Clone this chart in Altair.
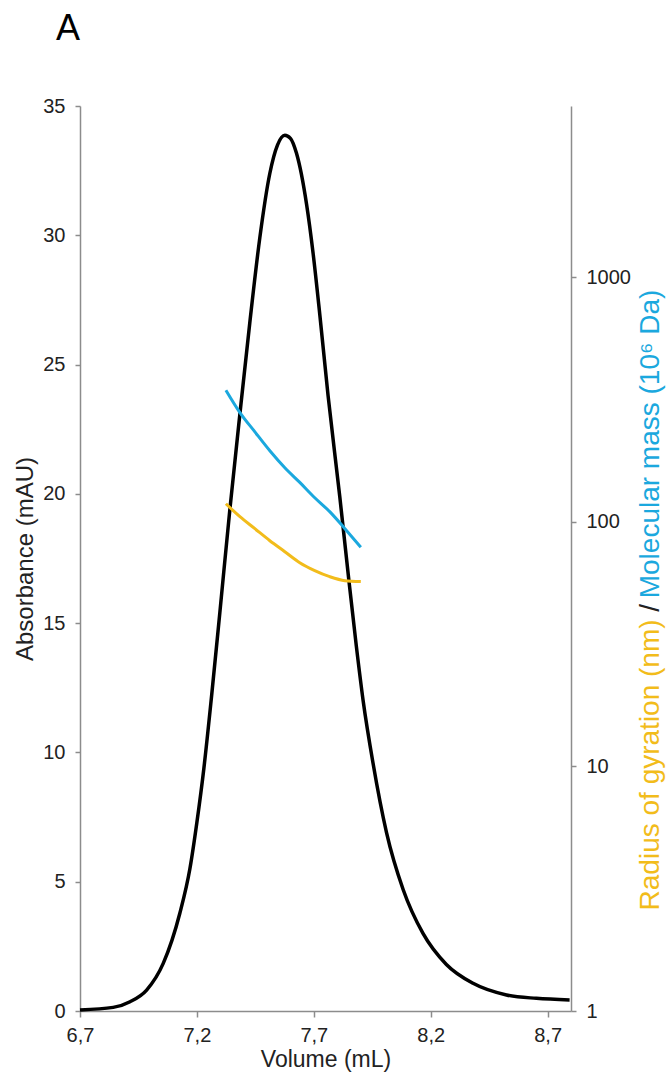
import altair as alt
import pandas as pd

# --- Absorbance trace (left axis) ---
abs_volume = [6.700, 6.842, 6.914, 6.985, 7.056, 7.127, 7.170, 7.200, 7.230, 7.263,
              7.298, 7.341, 7.384, 7.426, 7.469, 7.512, 7.545, 7.576, 7.600, 7.626,
              7.669, 7.697, 7.726, 7.761, 7.811, 7.847, 7.882, 7.911, 7.953, 8.011,
              8.082, 8.167, 8.267, 8.381, 8.524, 8.652, 8.794]
absorbance = [0.04, 0.14, 0.36, 0.81, 1.84, 3.78, 5.50, 7.30, 9.40, 12.20,
              15.40, 19.40, 23.10, 26.60, 29.90, 32.40, 33.50, 33.87, 33.75, 33.17,
              31.20, 29.30, 26.90, 23.80, 19.90, 16.90, 14.10, 12.00, 9.60, 6.90,
              4.70, 3.00, 1.80, 1.07, 0.62, 0.49, 0.43]

# --- Radius of gyration (nm), right log axis ---
rg_volume = [7.324, 7.384, 7.448, 7.512, 7.576, 7.640, 7.704, 7.768, 7.833, 7.901]
rg_values = [118.4, 104.8, 93.6, 83.6, 75.4, 68.0, 63.1, 59.6, 57.4, 56.9]

# --- Molecular mass (10^6 Da), right log axis ---
mm_volume = [7.324, 7.384, 7.448, 7.512, 7.576, 7.640, 7.704, 7.768, 7.833, 7.901]
mm_values = [344.8, 279.3, 232.9, 194.9, 166.1, 144.7, 125.3, 109.9, 93.6, 78.6]

x_ticks = [6.7, 7.2, 7.7, 8.2, 8.7]
left_ticks = [0, 5, 10, 15, 20, 25, 30, 35]
right_ticks = [1, 10, 100, 1000]

FONT = "Liberation Sans"
AXIS_GREY = "#8c8c8c"
GOLD = "#F2BC1B"
BLUE = "#1BA8DE"

W, H = 491, 905

abs_df = pd.DataFrame({"vol": abs_volume, "abs": absorbance})
sec_df = pd.concat([
    pd.DataFrame({"vol": rg_volume, "val": rg_values, "series": "Rg"}),
    pd.DataFrame({"vol": mm_volume, "val": mm_values, "series": "MM"}),
], ignore_index=True)

x_enc = alt.X(
    "vol:Q",
    scale=alt.Scale(domain=[6.7, 8.8], nice=False, zero=False),
    axis=alt.Axis(
        values=x_ticks,
        labelExpr="replace(format(datum.value, '.1f'), '.', ',')",
        title="Volume (mL)",
        titleFontSize=23,
        titlePadding=3,
        labelPadding=8,
        tickSize=6,
        labelFlush=False,
    ),
)

black = alt.Chart(abs_df).mark_line(color="black", strokeWidth=3.5, interpolate="monotone").encode(
    x=x_enc,
    y=alt.Y(
        "abs:Q",
        scale=alt.Scale(domain=[0, 35], nice=False),
        axis=alt.Axis(values=left_ticks, title="Absorbance (mAU)", titleFontSize=24,
                      titlePadding=5, labelPadding=10, tickSize=5, labelFlush=False),
    ),
)

colored = alt.Chart(sec_df).mark_line(strokeWidth=3, interpolate="monotone").encode(
    x=alt.X("vol:Q"),
    y=alt.Y(
        "val:Q",
        scale=alt.Scale(type="log", domain=[1, 5000], nice=False),
        axis=alt.Axis(orient="right", values=right_ticks, format="d", title=None,
                      labelPadding=10, tickSize=5, labelFlush=False),
    ),
    color=alt.Color("series:N", scale=alt.Scale(domain=["Rg", "MM"], range=[GOLD, BLUE]), legend=None),
    detail="series:N",
)

# Multi-coloured right-hand axis title built from three rotated text pieces
F = 28
gold_txt = "Radius of gyration (nm)"
slash_txt = "/"
blue_txt = "Molecular mass (10\u2076 Da)"
gold_w, sep_w, blue_w = 10.39 * F, 0.834 * F, 10.95 * F
total = gold_w + sep_w + blue_w
cy = 494
tx = 571
gold_start = cy + total / 2
slash_pos = gold_start - gold_w - sep_w / 2
blue_end = cy - total / 2


def label(txt, color, y, align):
    return alt.Chart(pd.DataFrame({"t": [txt]})).mark_text(
        angle=270, align=align, baseline="middle", font=FONT, fontSize=F, color=color
    ).encode(text="t:N", x=alt.value(tx), y=alt.value(y))


t_gold = label(gold_txt, GOLD, gold_start, "left")
t_slash = label(slash_txt, "#222222", slash_pos, "center")
t_blue = label(blue_txt, BLUE, blue_end, "right")

panel = alt.Chart(pd.DataFrame({"t": ["A"]})).mark_text(
    align="center", baseline="alphabetic", font=FONT, fontSize=36, color="black"
).encode(text="t:N", x=alt.value(-12), y=alt.value(-66))

chart = alt.layer(black, colored, t_gold, t_slash, t_blue, panel).resolve_scale(
    y="independent"
).properties(
    width=W,
    height=H,
    autosize="none",
    padding={"left": 80, "top": 106, "right": 98, "bottom": 71},
).configure_view(stroke=None).configure_axis(
    grid=False,
    domainColor=AXIS_GREY,
    domainWidth=1.5,
    tickColor=AXIS_GREY,
    tickWidth=1.5,
    labelFont=FONT,
    labelFontSize=20,
    labelColor="#222222",
    titleFont=FONT,
    titleColor="#222222",
    titleFontWeight="normal",
)

chart.save("out.html", embed_options={"renderer": "svg", "actions": False})
